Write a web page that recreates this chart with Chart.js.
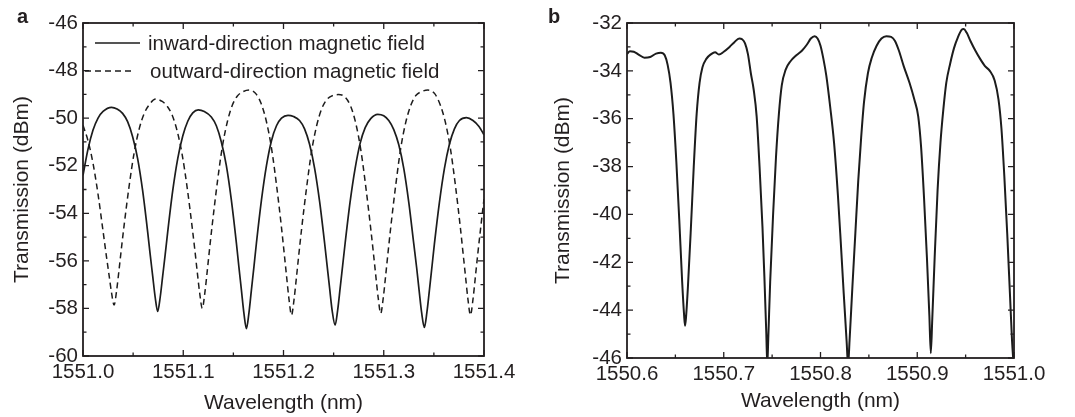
<!DOCTYPE html>
<html>
<head>
<meta charset="utf-8">
<script src="https://cdn.jsdelivr.net/npm/chart.js@4.4.0/dist/chart.umd.min.js"></script>
<style>
  html, body { margin: 0; padding: 0; background: #fff; }
  #wrap { position: relative; width: 1075px; height: 417px; overflow: hidden; }
  #chartA { position: absolute; left: 0; top: 0; }
  #chartB { position: absolute; left: 530px; top: 0; }
</style>
</head>
<body>
<div id="wrap">
  <canvas id="chartA" width="530" height="417"></canvas>
  <canvas id="chartB" width="545" height="417"></canvas>
</div>
<script>
'use strict'

// ---- panel a : inward / outward magnetic field ----
let waveIn = [
  1551.000, 1551.005, 1551.010, 1551.015, 1551.020, 1551.0285, 1551.034, 1551.0395, 1551.0445, 1551.0495,
  1551.0545, 1551.0595, 1551.0645, 1551.067, 1551.0695, 1551.072, 1551.0745, 1551.077, 1551.0795, 1551.082,
  1551.0845, 1551.0895, 1551.0945, 1551.0995, 1551.1045, 1551.1095, 1551.115,
  1551.121, 1551.128, 1551.133, 1551.138, 1551.143, 1551.148, 1551.153, 1551.1555, 1551.158, 1551.1605,
  1551.163, 1551.1655, 1551.168, 1551.1705, 1551.173, 1551.178, 1551.183, 1551.188, 1551.193, 1551.198, 1551.2045,
  1551.210, 1551.216, 1551.221, 1551.226, 1551.231, 1551.236, 1551.241, 1551.2435, 1551.246, 1551.2485,
  1551.2515, 1551.254, 1551.2565, 1551.259, 1551.2615, 1551.2665, 1551.2715, 1551.2765, 1551.2815, 1551.287, 1551.294,
  1551.300, 1551.305, 1551.310, 1551.315, 1551.320, 1551.325, 1551.330, 1551.3328, 1551.3353, 1551.3378,
  1551.3405, 1551.343, 1551.3455, 1551.348, 1551.3505, 1551.3555, 1551.3605, 1551.3655, 1551.3705, 1551.3755,
  1551.3825, 1551.389, 1551.395, 1551.400]
let inward = [
  -52.40, -51.30, -50.50, -50.00, -49.72, -49.55, -49.62, -49.80, -50.15, -50.78,
  -51.70, -53.05, -54.78, -55.73, -56.63, -57.53, -58.13, -57.53, -56.63, -55.73,
  -54.78, -53.05, -51.70, -50.75, -50.13, -49.78, -49.65,
  -49.72, -49.95, -50.32, -51.00, -52.00, -53.45, -55.25, -56.25, -57.22, -58.20,
  -58.85, -58.20, -57.22, -56.25, -55.25, -53.45, -52.00, -50.95, -50.32, -50.00, -49.88,
  -49.93, -50.10, -50.45, -51.10, -52.10, -53.50, -55.25, -56.20, -57.15, -58.08,
  -58.70, -58.08, -57.15, -56.20, -55.25, -53.50, -52.10, -51.05, -50.40, -50.02, -49.84,
  -49.90, -50.10, -50.48, -51.12, -52.12, -53.55, -55.30, -56.28, -57.25, -58.18,
  -58.80, -58.18, -57.25, -56.28, -55.30, -53.55, -52.12, -51.10, -50.45, -50.10,
  -49.98, -50.10, -50.35, -50.70]

let waveOut = [
  1551.000, 1551.005, 1551.010, 1551.015, 1551.020, 1551.0235, 1551.026, 1551.0285, 1551.031, 1551.0335,
  1551.036, 1551.0385, 1551.041, 1551.046, 1551.051, 1551.056, 1551.061, 1551.066, 1551.0725, 1551.079,
  1551.084, 1551.089, 1551.094, 1551.099, 1551.104, 1551.109, 1551.1115, 1551.114, 1551.1165, 1551.119,
  1551.1215, 1551.124, 1551.1265, 1551.129, 1551.134, 1551.139, 1551.144, 1551.149, 1551.154, 1551.160,
  1551.166, 1551.173, 1551.178, 1551.183, 1551.188, 1551.193, 1551.198, 1551.2005, 1551.203, 1551.2055,
  1551.208, 1551.2105, 1551.213, 1551.2155, 1551.218, 1551.223, 1551.228, 1551.233, 1551.238, 1551.243,
  1551.2485, 1551.2545, 1551.261, 1551.267, 1551.272, 1551.277, 1551.282, 1551.287, 1551.2895, 1551.292,
  1551.2945, 1551.297, 1551.2995, 1551.302, 1551.3045, 1551.307, 1551.312, 1551.317, 1551.322, 1551.327,
  1551.332, 1551.338, 1551.344, 1551.351, 1551.3565, 1551.3615, 1551.3665, 1551.3715, 1551.3765, 1551.379,
  1551.3815, 1551.384, 1551.3865, 1551.389, 1551.3915, 1551.394, 1551.3965, 1551.400]
let outward = [
  -50.30, -50.95, -51.90, -53.20, -54.75, -55.85, -56.60, -57.35, -57.86, -57.26,
  -56.36, -55.41, -54.51, -52.86, -51.46, -50.46, -49.81, -49.44, -49.20, -49.30,
  -49.50, -49.88, -50.55, -51.55, -52.95, -54.62, -55.52, -56.48, -57.39, -58.00,
  -57.36, -56.40, -55.40, -54.45, -52.70, -51.20, -50.15, -49.45, -49.07, -48.88,
  -48.82, -49.00, -49.42, -50.15, -51.25, -52.80, -54.60, -55.60, -56.62, -57.62,
  -58.28, -57.63, -56.66, -55.65, -54.68, -52.93, -51.40, -50.33, -49.62, -49.23,
  -49.06, -49.01, -49.10, -49.50, -50.20, -51.30, -52.86, -54.64, -55.60, -56.60,
  -57.57, -58.21, -57.56, -56.58, -55.56, -54.58, -52.80, -51.25, -50.17, -49.46,
  -49.05, -48.88, -48.82, -48.98, -49.46, -50.18, -51.28, -52.83, -54.63, -55.63,
  -56.63, -57.62, -58.28, -57.62, -56.63, -55.63, -54.68, -53.40]

let xTicksA = [1551.0, 1551.1, 1551.2, 1551.3, 1551.4]
let yTicksA = [-60, -58, -56, -54, -52, -50, -48, -46]

// ---- panel b ----
let waveB = [
  1550.600, 1550.603, 1550.607, 1550.612, 1550.618, 1550.624, 1550.630, 1550.635, 1550.639, 1550.642,
  1550.645, 1550.648, 1550.651, 1550.654, 1550.657, 1550.659, 1550.660, 1550.661, 1550.663, 1550.666,
  1550.669, 1550.672, 1550.675, 1550.678, 1550.682, 1550.687, 1550.691, 1550.695, 1550.700, 1550.706,
  1550.711, 1550.716, 1550.719, 1550.722, 1550.725, 1550.728, 1550.731, 1550.734, 1550.737, 1550.740,
  1550.742, 1550.744, 1550.745, 1550.746, 1550.748, 1550.751, 1550.754, 1550.757, 1550.760, 1550.764,
  1550.769, 1550.775, 1550.781, 1550.786, 1550.790, 1550.794, 1550.797, 1550.800, 1550.803, 1550.806,
  1550.810, 1550.814, 1550.818, 1550.821, 1550.824, 1550.827, 1550.8285, 1550.830, 1550.833, 1550.836,
  1550.839, 1550.842, 1550.845, 1550.849, 1550.853, 1550.858, 1550.863, 1550.868, 1550.873, 1550.877,
  1550.881, 1550.886, 1550.892, 1550.897, 1550.901, 1550.904, 1550.907, 1550.910, 1550.9125, 1550.914,
  1550.9155, 1550.918, 1550.921, 1550.924, 1550.927, 1550.930, 1550.934, 1550.938, 1550.942, 1550.946,
  1550.948, 1550.951, 1550.955, 1550.960, 1550.965, 1550.970, 1550.975, 1550.980, 1550.984, 1550.987,
  1550.990, 1550.993, 1550.996, 1550.998, 1551.000]
let transB = [
  -33.30, -33.18, -33.20, -33.32, -33.45, -33.42, -33.28, -33.24, -33.35, -33.75,
  -34.50, -35.80, -37.80, -40.20, -42.80, -44.20, -44.65, -44.30, -43.00, -40.60,
  -38.00, -35.80, -34.50, -33.85, -33.50, -33.30, -33.22, -33.32, -33.20, -33.00,
  -32.80, -32.65, -32.68, -32.85, -33.30, -34.10, -34.80, -35.90, -38.00, -40.50,
  -42.60, -45.00, -46.30, -45.20, -42.80, -40.00, -37.60, -35.80, -34.60, -33.95,
  -33.60, -33.35, -33.15, -32.90, -32.65, -32.55, -32.65, -32.95, -33.50, -34.20,
  -35.50, -37.00, -39.20, -41.20, -43.30, -45.30, -46.30, -45.30, -43.00, -40.80,
  -38.60, -36.80, -35.30, -34.10, -33.45, -32.95, -32.65, -32.55, -32.58, -32.75,
  -33.15, -33.80, -34.50, -35.20, -35.90, -37.20, -39.30, -41.80, -44.20, -45.80,
  -44.40, -41.80, -39.00, -37.00, -35.60, -34.50, -33.70, -33.05, -32.60, -32.28,
  -32.25, -32.40, -32.75, -33.15, -33.50, -33.80, -34.00, -34.40, -35.20, -36.40,
  -38.40, -40.80, -43.50, -45.30, -46.50]

let xTicksB = [1550.6, 1550.7, 1550.8, 1550.9, 1551.0]
let yTicksB = [-46, -44, -42, -40, -38, -36, -34, -32]

let ink = '#231f20'
let family = '"Liberation Sans", Arial, Helvetica, sans-serif'

let pairs = function (xs, ys) {
    return xs.map((x, i) => ({x: x, y: ys[i]}))
}

let midpoints = function (vals) {
    let out = []
    for (let i = 1; i < vals.length; i++) out.push((vals[i - 1] + vals[i]) / 2)
    return out
}

// box round the plot with inward ticks on all four sides
let framePlugin = {
    id: 'frame',
    afterDatasetsDraw(chart) {
        let ctx = chart.ctx, a = chart.chartArea
        let xs = chart.scales.x, ys = chart.scales.y
        let xv = xs.ticks.map(t => t.value), yv = ys.ticks.map(t => t.value)
        ctx.save()
        ctx.strokeStyle = ink
        ctx.lineWidth = 1.3
        ctx.beginPath()
        let vTick = (v, len) => {
            let px = xs.getPixelForValue(v)
            ctx.moveTo(px, a.bottom); ctx.lineTo(px, a.bottom - len)
            ctx.moveTo(px, a.top); ctx.lineTo(px, a.top + len)
        }
        let hTick = (v, len) => {
            let py = ys.getPixelForValue(v)
            ctx.moveTo(a.left, py); ctx.lineTo(a.left + len, py)
            ctx.moveTo(a.right, py); ctx.lineTo(a.right - len, py)
        }
        xv.forEach(v => vTick(v, 6))
        midpoints(xv).forEach(v => vTick(v, 3.5))
        yv.forEach(v => hTick(v, 6))
        midpoints(yv).forEach(v => hTick(v, 3.5))
        ctx.stroke()
        ctx.lineWidth = 1.8
        ctx.strokeRect(a.left, a.top, a.right - a.left, a.bottom - a.top)
        ctx.restore()
    }
}

// panel letter, a / b
let letterPlugin = {
    id: 'letter',
    afterDraw(chart, args, opts) {
        let ctx = chart.ctx
        ctx.save()
        ctx.fillStyle = ink
        ctx.font = 'bold 20px ' + family
        ctx.textBaseline = 'alphabetic'
        ctx.fillText(opts.text, opts.x, 23)
        ctx.restore()
    }
}

// legend drawn inside the plot, top left
let insideLegend = {
    id: 'insideLegend',
    afterDraw(chart) {
        let ctx = chart.ctx, a = chart.chartArea
        let rows = [
            {ds: 0, y: a.top + 20, x0: a.left + 12, x1: a.left + 57, tx: a.left + 65},
            {ds: 1, y: a.top + 48, x0: a.left + 2, x1: a.left + 48, tx: a.left + 67}
        ]
        ctx.save()
        rows.forEach(r => {
            let ds = chart.data.datasets[r.ds]
            ctx.strokeStyle = ds.borderColor
            ctx.lineWidth = ds.borderWidth
            ctx.setLineDash(ds.borderDash || [])
            ctx.beginPath()
            ctx.moveTo(r.x0, r.y)
            ctx.lineTo(r.x1, r.y)
            ctx.stroke()
            ctx.setLineDash([])
            ctx.fillStyle = ink
            ctx.font = '20.5px ' + family
            ctx.textBaseline = 'middle'
            ctx.fillText(ds.label, r.tx, r.y + 1)
        })
        ctx.restore()
    }
}

let makeOptions = function (cfg) {
    return {
        responsive: false,
        animation: false,
        layout: {padding: {top: 23, right: cfg.padRight, bottom: 0, left: 0}},
        plugins: {
            legend: {display: false},
            tooltip: {enabled: false},
            letter: {text: cfg.letter, x: cfg.letterX}
        },
        elements: {point: {radius: 0}},
        scales: {
            x: {
                type: 'linear',
                min: cfg.xTicks[0],
                max: cfg.xTicks[cfg.xTicks.length - 1],
                afterBuildTicks: (s) => { s.ticks = cfg.xTicks.map(v => ({value: v})) },
                afterFit: (s) => { s.height = cfg.xHeight },
                grid: {display: false, drawTicks: false},
                border: {display: false},
                ticks: {
                    autoSkip: false,
                    maxRotation: 0,
                    padding: 4,
                    color: ink,
                    font: {family: family, size: 20.5},
                    callback: (v) => Number(v).toFixed(1)
                },
                title: {
                    display: true,
                    text: 'Wavelength (nm)',
                    color: ink,
                    font: {family: family, size: 21},
                    padding: {top: 0, bottom: cfg.xTitlePad}
                }
            },
            y: {
                min: cfg.yTicks[0],
                max: cfg.yTicks[cfg.yTicks.length - 1],
                afterBuildTicks: (s) => { s.ticks = cfg.yTicks.map(v => ({value: v})) },
                afterFit: (s) => { s.width = cfg.yWidth },
                grid: {display: false, drawTicks: false},
                border: {display: false},
                ticks: {
                    autoSkip: false,
                    padding: 5,
                    color: ink,
                    font: {family: family, size: 20.5},
                    callback: (v) => String(v)
                },
                title: {
                    display: true,
                    text: 'Transmission (dBm)',
                    color: ink,
                    font: {family: family, size: 21},
                    padding: {top: cfg.yTitlePad, bottom: 0}
                }
            }
        }
    }
}

let chartA = new Chart(document.getElementById('chartA'), {
    type: 'line',
    data: {
        datasets: [{
            label: 'inward-direction magnetic field',
            data: pairs(waveIn, inward),
            borderColor: '#1c1c1c',
            borderWidth: 1.7,
            cubicInterpolationMode: 'monotone',
            fill: false
        }, {
            label: 'outward-direction magnetic field',
            data: pairs(waveOut, outward),
            borderColor: '#1c1c1c',
            borderWidth: 1.5,
            borderDash: [6, 4],
            cubicInterpolationMode: 'monotone',
            fill: false
        }]
    },
    options: makeOptions({
        padRight: 46, xHeight: 61, yWidth: 83, xTitlePad: 1.5, yTitlePad: 10,
        xTicks: xTicksA, yTicks: yTicksA, letter: 'a', letterX: 17
    }),
    plugins: [framePlugin, letterPlugin, insideLegend]
})

let chartB = new Chart(document.getElementById('chartB'), {
    type: 'line',
    data: {
        datasets: [{
            label: 'Transmission',
            data: pairs(waveB, transB),
            borderColor: '#1c1c1c',
            borderWidth: 2,
            cubicInterpolationMode: 'monotone',
            fill: false
        }]
    },
    options: makeOptions({
        padRight: 61, xHeight: 59, yWidth: 97, xTitlePad: 3.5, yTitlePad: 21,
        xTicks: xTicksB, yTicks: yTicksB, letter: 'b', letterX: 18
    }),
    plugins: [framePlugin, letterPlugin]
})
</script>
</body>
</html>
